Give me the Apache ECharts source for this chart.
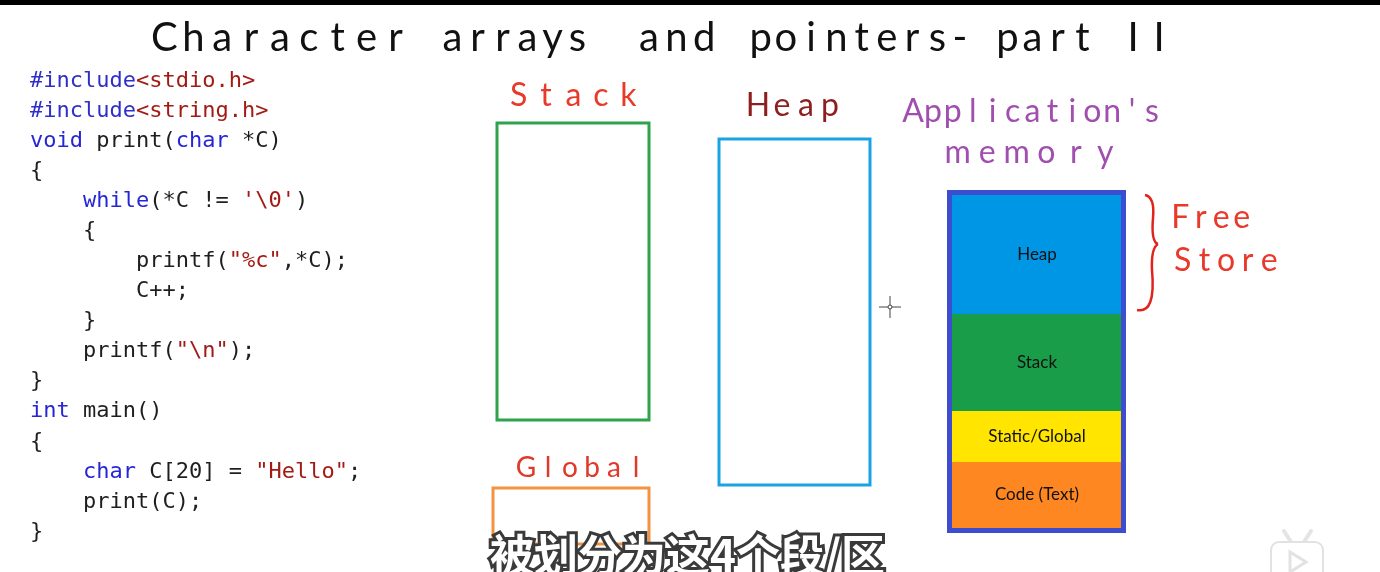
<!DOCTYPE html>
<html>
<head>
    <meta charset="utf-8">
    <title>Character arrays and pointers - part II</title>
    <style>
        html, body { margin: 0; padding: 0; background: #fff; }
    </style>
</head>
<body>
    <div id="main" style="width: 1380px;height:572px;"></div>
</body>
<script src="https://cdn.jsdelivr.net/npm/echarts@6/dist/echarts.min.js"></script>
<script>
// memory segments, bottom to top
var segNames = ['Code (Text)', 'Static/Global', 'Stack', 'Heap'];
var segSizes = [66, 51, 97, 119];

// source code shown on the left, [kind, text] tokens
var codeLines = [
    [['pp', '#include'], ['str', '<stdio.h>']],
    [['pp', '#include'], ['str', '<string.h>']],
    [['kw', 'void'], ['', ' print('], ['kw', 'char'], ['', ' *C)']],
    [['', '{']],
    [['', '    '], ['kw', 'while'], ['', '(*C != '], ['str', "'\\0'"], ['', ')']],
    [['', '    {']],
    [['', '        printf('], ['str', '"%c"'], ['', ',*C);']],
    [['', '        C++;']],
    [['', '    }']],
    [['', '    printf('], ['str', '"\\n"'], ['', ');']],
    [['', '}']],
    [['kw', 'int'], ['', ' main()']],
    [['', '{']],
    [['', '    '], ['kw', 'char'], ['', ' C[20] = '], ['str', '"Hello"'], ['', ';']],
    [['', '    print(C);']],
    [['', '}']]
];

var titleWords = ['Character', 'arrays', 'and', 'pointers', '-', 'part', 'II'];
var subtitle = '被划分为这4个段/区';

var segColors = {
    'Heap': '#0096e6',
    'Stack': '#1a9d49',
    'Static/Global': '#ffe500',
    'Code (Text)': '#ff8722'
};

var myChart = echarts.init(document.getElementById('main'));

var graphics = [];

// black strip at the very top
graphics.push({ type: 'rect', shape: { x: 0, y: 0, width: 1380, height: 5 }, style: { fill: '#000' } });

// code block
var codeFont = '"DejaVu Sans Mono", monospace';
codeLines.forEach(function (line, i) {
    var txt = line.map(function (t) {
        return t[0] ? '{' + t[0] + '|' + t[1] + '}' : t[1];
    }).join('');
    graphics.push({
        type: 'text',
        x: 30,
        y: 81 + i * 30.07,
        style: {
            text: txt,
            fill: '#1e1e1e',
            fontSize: 22,
            fontFamily: codeFont,
            verticalAlign: 'middle',
            rich: {
                pp: { fill: '#2f2fc8', fontSize: 22, fontFamily: codeFont },
                kw: { fill: '#2626d6', fontSize: 22, fontFamily: codeFont },
                str: { fill: '#a31a15', fontSize: 22, fontFamily: codeFont }
            }
        }
    });
});

// hand-written words, letters spread over the given span
function handWord(word, x0, x1, y, size, color) {
    var n = word.length;
    var step = (x1 - x0) / n;
    for (var k = 0; k < n; k++) {
        if (word[k] === ' ') continue;
        graphics.push({
            type: 'text',
            x: x0 + (k + 0.5) * step,
            y: y,
            style: {
                text: word[k],
                fill: color,
                fontSize: size,
                fontFamily: 'Lato',
                align: 'center',
                verticalAlign: 'middle'
            }
        });
    }
}

var titleSpans = [[150, 410], [440, 590], [635, 718], [748, 950], [952, 968], [995, 1095], [1120, 1172]];
titleWords.forEach(function (w, i) {
    handWord(w, titleSpans[i][0], titleSpans[i][1], 38, 40, '#111');
});

handWord('Stack', 505, 642, 96, 32, '#e8392a');
handWord('Heap', 746, 842, 106, 32, '#8e1f1f');
handWord("Application's", 903, 1162, 112, 32, '#a04fae');
handWord('memory', 943, 1120, 153, 32, '#a04fae');
handWord('Free', 1170, 1252, 218, 32, '#e8392a');
handWord('Store', 1172, 1280, 261, 32, '#e8392a');
handWord('Global', 515, 647, 468, 28, '#e0392a');

// empty boxes
graphics.push({ type: 'rect', shape: { x: 497, y: 123, width: 152, height: 297 }, style: { fill: 'none', stroke: '#2ea24d', lineWidth: 3 } });
graphics.push({ type: 'rect', shape: { x: 719, y: 139, width: 151, height: 346 }, style: { fill: 'none', stroke: '#1aa3e3', lineWidth: 3 } });
graphics.push({ type: 'rect', shape: { x: 493, y: 488, width: 156, height: 56 }, style: { fill: 'none', stroke: '#f29340', lineWidth: 3 } });

// border of the memory column
graphics.push({ type: 'rect', z: 100, shape: { x: 949.5, y: 192.5, width: 174, height: 338 }, style: { fill: 'none', stroke: '#3c4dd0', lineWidth: 5 } });

// red brace, drawn as four curves
var braceStyle = { fill: 'none', stroke: '#e0241c', lineWidth: 2.5 };
graphics.push({ type: 'bezierCurve', shape: { x1: 1145, y1: 195, cpx1: 1155, cpy1: 197, x2: 1153, y2: 218 }, style: braceStyle });
graphics.push({ type: 'bezierCurve', shape: { x1: 1153, y1: 218, cpx1: 1151, cpy1: 242, x2: 1158, y2: 244 }, style: braceStyle });
graphics.push({ type: 'bezierCurve', shape: { x1: 1158, y1: 244, cpx1: 1151, cpy1: 248, x2: 1152, y2: 270 }, style: braceStyle });
graphics.push({ type: 'bezierCurve', shape: { x1: 1152, y1: 270, cpx1: 1156, cpy1: 314, x2: 1137, y2: 310 }, style: braceStyle });

// mouse cursor
graphics.push({ type: 'line', shape: { x1: 879, y1: 307, x2: 901, y2: 307 }, style: { stroke: '#444', lineWidth: 1 } });
graphics.push({ type: 'line', shape: { x1: 890, y1: 296, x2: 890, y2: 318 }, style: { stroke: '#444', lineWidth: 1 } });
graphics.push({ type: 'circle', shape: { cx: 890, cy: 307, r: 2 }, style: { fill: '#fff', stroke: '#444', lineWidth: 1 } });

// subtitle
graphics.push({
    type: 'text',
    z: 200,
    x: 490,
    y: 533,
    style: {
        text: subtitle,
        fill: '#fff',
        stroke: '#3a3a3a',
        lineWidth: 6,
        strokeFirst: true,
        fontSize: 44,
        fontWeight: 'bold',
        fontFamily: '"Noto Sans CJK SC"',
        verticalAlign: 'top'
    }
});

// little tv logo in the corner
graphics.push({ type: 'line', shape: { x1: 1284, y1: 531, x2: 1291, y2: 542 }, style: { stroke: '#e4e4e4', lineWidth: 4, lineCap: 'round' } });
graphics.push({ type: 'line', shape: { x1: 1311, y1: 531, x2: 1304, y2: 542 }, style: { stroke: '#e4e4e4', lineWidth: 4, lineCap: 'round' } });
graphics.push({ type: 'rect', shape: { x: 1271, y: 542, width: 52, height: 44, r: 8 }, style: { fill: '#fff', stroke: '#e2e2e2', lineWidth: 2 } });
graphics.push({ type: 'polygon', shape: { points: [[1290, 552], [1290, 572], [1306, 562]] }, style: { fill: 'none', stroke: '#e2e2e2', lineWidth: 3 } });

var seriesData = segNames.map(function (name, i) {
    return {
        name: name,
        type: 'bar',
        stack: 'mem',
        barWidth: '100%',
        data: [segSizes[i]],
        itemStyle: { color: segColors[name] },
        label: {
            show: true,
            position: 'inside',
            formatter: '{a}',
            color: '#111',
            fontSize: 17,
            fontFamily: 'Lato'
        }
    };
});

myChart.setOption({
    animation: false,
    backgroundColor: '#fff',
    grid: {
        left: 952,
        top: 195,
        width: 170,
        height: 333
    },
    xAxis: {
        type: 'category',
        data: ['memory'],
        show: false
    },
    yAxis: {
        type: 'value',
        min: 0,
        max: 333,
        show: false
    },
    series: seriesData,
    graphic: graphics
});
</script>
</html>
